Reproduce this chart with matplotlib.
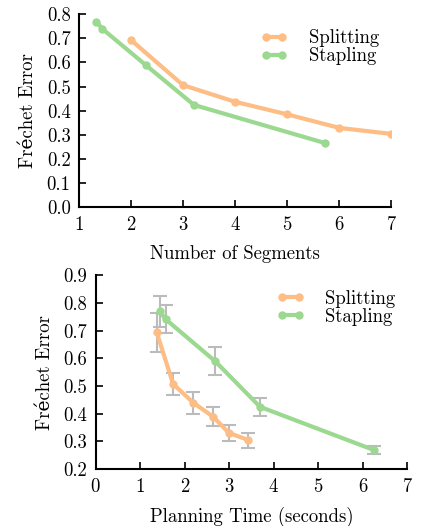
import matplotlib
matplotlib.use('Agg')
import matplotlib.pyplot as plt

plt.rcParams['font.family'] = ['cmr10', 'DejaVu Serif']
plt.rcParams['mathtext.fontset'] = 'cm'
plt.rcParams['axes.formatter.use_mathtext'] = True

orange = '#fdbd85'
green = '#9bd890'

# top panel: error vs number of segments
split_segs = [2, 3, 4, 5, 6, 7]
split_err = [0.693, 0.506, 0.437, 0.385, 0.329, 0.304]
staple_segs = [1.335, 1.45, 2.285, 3.21, 5.73]
staple_err = [0.769, 0.739, 0.589, 0.424, 0.266]

# bottom panel: error vs planning time
split_time = [1.37, 1.74, 2.19, 2.64, 2.99, 3.43]
split_err2 = [0.694, 0.507, 0.44, 0.389, 0.331, 0.305]
split_sd = [0.07, 0.04, 0.04, 0.035, 0.03, 0.027]
staple_time = [1.44, 1.57, 2.68, 3.69, 6.25]
staple_err2 = [0.769, 0.741, 0.59, 0.425, 0.269]
staple_sd = [0.055, 0.05, 0.05, 0.032, 0.016]

fs = 13.5


def style_axes(ax):
    for s in ['top', 'right']:
        ax.spines[s].set_visible(False)
    for s in ['left', 'bottom']:
        ax.spines[s].set_linewidth(1.5)
    ax.tick_params(direction='in', length=5, width=1.2, labelsize=fs,
                   top=False, right=False, pad=6)


def add_legend(ax):
    ax.legend(loc='upper right', bbox_to_anchor=(1.015, 1.01), frameon=False, fontsize=fs,
              numpoints=2, handlelength=1.5, labelspacing=0.0, handletextpad=1.1)


fig = plt.figure(figsize=(4.27, 5.26), dpi=100)

ax1 = fig.add_axes([0.185, 0.606, 0.731, 0.367])
ax1.plot(split_segs, split_err, color=orange, lw=3, marker='o', ms=5, label='Splitting')
ax1.plot(staple_segs, staple_err, color=green, lw=3, marker='o', ms=5, label='Stapling')
ax1.set_xlim(1, 7)
ax1.set_ylim(0, 0.8)
ax1.set_xticks(range(1, 8))
ax1.set_yticks([0.0, 0.1, 0.2, 0.3, 0.4, 0.5, 0.6, 0.7, 0.8])
ax1.set_yticklabels(['0.0', '0.1', '0.2', '0.3', '0.4', '0.5', '0.6', '0.7', '0.8'])
ax1.set_xlabel('Number of Segments', fontsize=fs, labelpad=8)
ax1.set_ylabel('Fréchet Error', fontsize=fs, labelpad=7)
style_axes(ax1)
add_legend(ax1)

ax2 = fig.add_axes([0.224, 0.108, 0.73, 0.369])
ax2.errorbar(split_time, split_err2, yerr=split_sd, fmt='none', ecolor='#bbbbbb',
             elinewidth=1.5, capsize=5, capthick=1.5, zorder=1)
ax2.errorbar(staple_time, staple_err2, yerr=staple_sd, fmt='none', ecolor='#bbbbbb',
             elinewidth=1.5, capsize=5, capthick=1.5, zorder=1)
ax2.plot(split_time, split_err2, color=orange, lw=3, marker='o', ms=5, label='Splitting', zorder=3)
ax2.plot(staple_time, staple_err2, color=green, lw=3, marker='o', ms=5, label='Stapling', zorder=3)
ax2.set_xlim(0, 7)
ax2.set_ylim(0.2, 0.9)
ax2.set_xticks(range(0, 8))
ax2.set_yticks([0.2, 0.3, 0.4, 0.5, 0.6, 0.7, 0.8, 0.9])
ax2.set_yticklabels(['0.2', '0.3', '0.4', '0.5', '0.6', '0.7', '0.8', '0.9'])
ax2.set_xlabel('Planning Time (seconds)', fontsize=fs, labelpad=8)
ax2.set_ylabel('Fréchet Error', fontsize=fs, labelpad=7)
style_axes(ax2)
add_legend(ax2)

fig.savefig('out.png', dpi=100)
